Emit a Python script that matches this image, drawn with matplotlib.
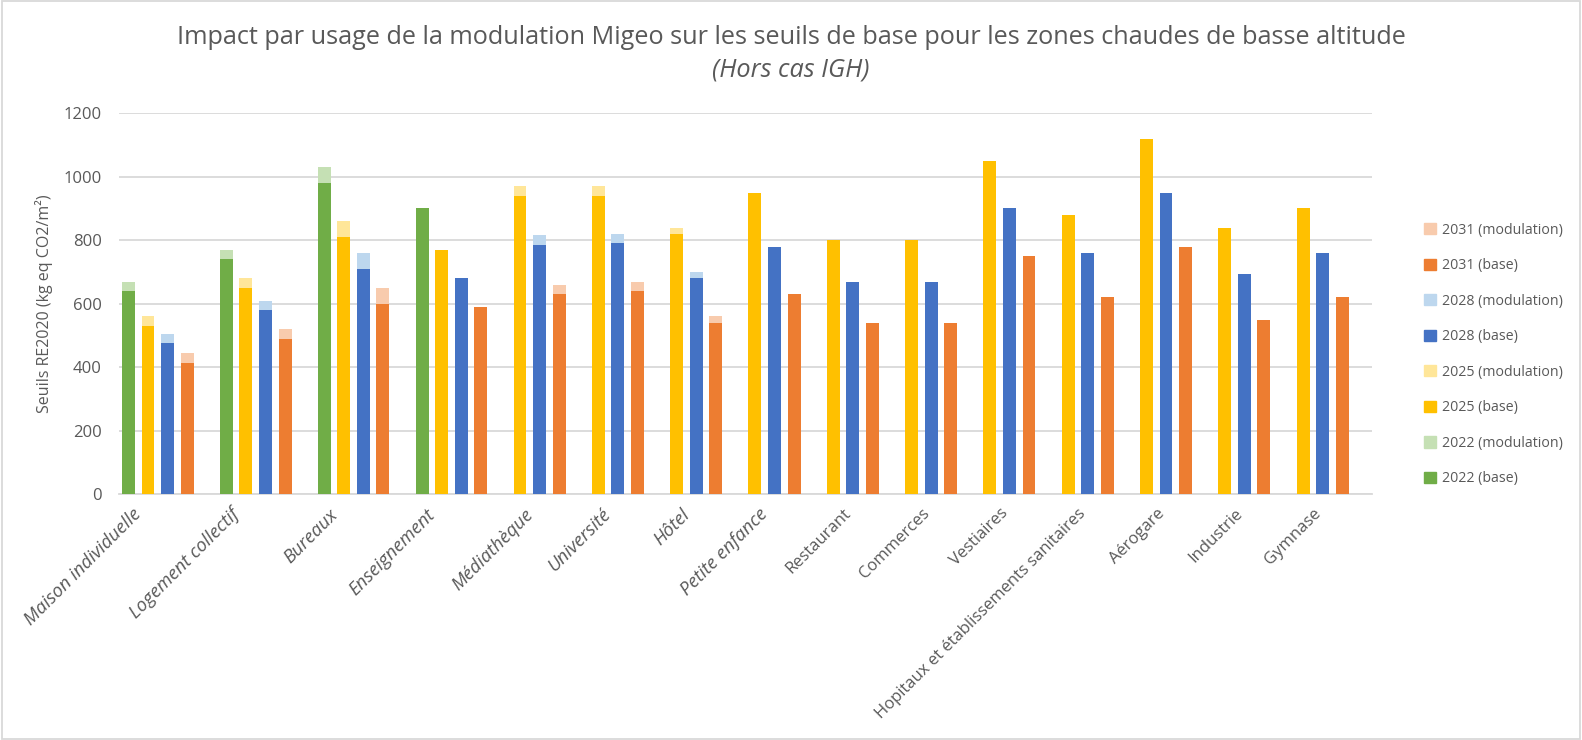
"""
Impact par usage de la modulation Migeo - zones chaudes de basse altitude
"""
import numpy as np
from matplotlib import pyplot as plt
from matplotlib.patches import Rectangle, Patch

plt.rcParams["font.family"] = ["Open Sans", "DejaVu Sans"]

categories = [
    "Maison individuelle", "Logement collectif", "Bureaux", "Enseignement",
    "Médiathèque", "Université", "Hôtel", "Petite enfance", "Restaurant",
    "Commerces", "Vestiaires", "Hopitaux et établissements sanitaires",
    "Aérogare", "Industrie", "Gymnase",
]
italic_labels = 8  # the first labels are drawn in italics in the original

nan = np.nan
base_2022 = [640, 740, 980, 900] + [nan] * 11
mod_2022 = [30, 30, 50, 0] + [nan] * 11
base_2025 = [530, 650, 810, 770, 940, 940, 820, 950, 800, 800, 1050, 880, 1120, 840, 900]
mod_2025 = [30, 30, 50, 0, 30, 30, 20, 0, 0, 0, 0, 0, 0, 0, 0]
base_2028 = [475, 580, 710, 680, 785, 790, 680, 780, 670, 670, 900, 760, 950, 695, 760]
mod_2028 = [30, 30, 50, 0, 30, 30, 20, 0, 0, 0, 0, 0, 0, 0, 0]
base_2031 = [415, 490, 600, 590, 630, 640, 540, 630, 540, 540, 750, 620, 780, 550, 620]
mod_2031 = [30, 30, 50, 0, 30, 30, 20, 0, 0, 0, 0, 0, 0, 0, 0]

series = [
    ("2022", base_2022, mod_2022, "#70AD47", "#C5E0B4"),
    ("2025", base_2025, mod_2025, "#FFC000", "#FFE699"),
    ("2028", base_2028, mod_2028, "#4472C4", "#BDD7EE"),
    ("2031", base_2031, mod_2031, "#ED7D31", "#F8CBAD"),
]

GREY = "#595959"

fig = plt.figure(figsize=(15.82, 7.40), dpi=100)
ax = fig.add_axes([0.075, 0.332, 0.792, 0.515])

# each bar takes one slot, with an empty slot after every group
slot = 0
label_pos = []
for i, cat in enumerate(categories):
    label_pos.append(slot)
    for year, base, mod, c_base, c_mod in series:
        if np.isnan(base[i]):
            continue
        ax.bar(slot, base[i], width=0.66, color=c_base, zorder=3)
        if mod[i] > 0:
            ax.bar(slot, mod[i], bottom=base[i], width=0.66, color=c_mod, zorder=3)
        slot += 1
    slot += 1

ax.set_xlim(-0.5, slot - 0.5)
ax.set_ylim(0, 1200)
ax.set_yticks(np.arange(0, 1201, 200))
ax.yaxis.grid(True, color="#D9D9D9", linewidth=1.3, zorder=0)
ax.tick_params(axis="y", length=0, labelsize=12, labelcolor=GREY, pad=12)
ax.tick_params(axis="x", length=0)
for side in ["top", "right", "left"]:
    ax.spines[side].set_visible(False)
ax.spines["bottom"].set_color("#D9D9D9")
ax.spines["bottom"].set_linewidth(1.3)

ax.set_xticks(label_pos)
ax.set_xticklabels([])
for k, (pos, cat) in enumerate(zip(label_pos, categories)):
    is_italic = k < italic_labels
    ax.text(pos + (0.2 if is_italic else 0.5), -35, cat, rotation=45, ha="right", va="top",
            rotation_mode="anchor", fontsize=13.3 if is_italic else 12, color=GREY,
            style="italic" if is_italic else "normal")

ax.set_ylabel("Seuils RE2020 (kg eq CO2/m²)", fontsize=11.5, color=GREY, labelpad=8)

fig.text(0.5, 0.95, "Impact par usage de la modulation Migeo sur les seuils de base "
         "pour les zones chaudes de basse altitude",
         ha="center", va="center", fontsize=18.2, color=GREY)
fig.text(0.5, 0.905, "(Hors cas IGH)", ha="center", va="center",
         fontsize=18.2, color=GREY, style="italic")

handles = []
for year, base, mod, c_base, c_mod in reversed(series):
    handles.append(Patch(color=c_mod, label=f"{year} (modulation)"))
    handles.append(Patch(color=c_base, label=f"{year} (base)"))
fig.legend(handles=handles, loc="center left", bbox_to_anchor=(0.892, 0.521),
           frameon=False, fontsize=10.2, labelcolor=GREY, labelspacing=1.45,
           handlelength=0.85, handleheight=0.85, handletextpad=0.45)

fig.patches.append(Rectangle((0.001, 0.001), 0.998, 0.998, transform=fig.transFigure,
                             fill=False, edgecolor="#D9D9D9", linewidth=1.3))

fig.savefig("out.png", dpi=100)
